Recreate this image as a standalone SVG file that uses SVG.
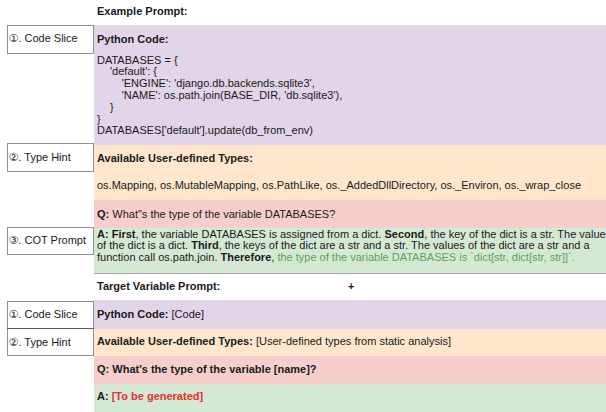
<svg xmlns="http://www.w3.org/2000/svg" width="606" height="412" viewBox="0 0 606 412">
<style>
text{font-family:"Liberation Sans",Arial,"DejaVu Sans",sans-serif;font-size:11px;fill:#1a1a1a}
.b{font-weight:bold}
.lbl{fill:none;stroke:#222;stroke-width:1;stroke-dasharray:1 1}
.pu{fill:#e1d5e7}.or{fill:#ffe6cc}.re{fill:#f8cecc}.gr{fill:#d5e8d4}
.g{fill:#5aa55a}
.r{fill:#e8302e;font-weight:bold}
</style>
<rect width="606" height="412" fill="#fff"/>
<g id="example-title"><text class="b" x="97" y="15">Example Prompt:</text></g>
<g id="code-slice-1">
<rect class="pu" x="94" y="25" width="512" height="120"/>
<text class="b" x="97" y="42.5">Python Code:</text>
<text x="97" y="63.5">DATABASES = {</text>
<text x="110" y="75.3">'default': {</text>
<text x="121.7" y="87.1">'ENGINE': 'django.db.backends.sqlite3',</text>
<text x="121.7" y="98.9">'NAME': os.path.join(BASE_DIR, 'db.sqlite3'),</text>
<text x="110" y="110.7">}</text>
<text x="97" y="122.5">}</text>
<text x="97" y="134.3">DATABASES['default'].update(db_from_env)</text>
</g>
<g id="type-hint-1">
<rect class="or" x="94" y="145" width="512" height="55"/>
<text class="b" x="97" y="161.7">Available User-defined Types:</text>
<text x="97" y="189.3">os.Mapping, os.MutableMapping, os.PathLike, os._AddedDllDirectory, os._Environ, os._wrap_close</text>
</g>
<g id="question-1">
<rect class="re" x="94" y="200" width="512" height="28"/>
<text x="97" y="217.7"><tspan class="b">Q:</tspan> What"s the type of the variable DATABASES?</text>
</g>
<g id="answer-1">
<rect class="gr" x="94" y="228" width="512" height="45"/>
<line x1="94" y1="273.5" x2="606" y2="273.5" stroke="#a6a6a6" stroke-width="1"/>
<text x="97" y="237.5"><tspan class="b">A: First</tspan>, the variable DATABASES is assigned from a dict. <tspan class="b">Second</tspan>, the key of the dict is a str. The value</text>
<text x="97" y="249"><tspan>of the dict is a dict. </tspan><tspan class="b">Third</tspan>, the keys of the dict are a str and a str. The values of the dict are a str and a</text>
<text x="97" y="260.5">function call os.path.join. <tspan class="b">Therefore</tspan>, <tspan class="g">the type of the variable DATABASES is `dict[str, dict[str, str]]`.</tspan></text>
</g>
<g id="target-title">
<text class="b" x="97" y="290">Target Variable Prompt:</text>
<text class="b" x="348" y="290">+</text>
</g>
<g id="code-slice-2">
<rect class="pu" x="94" y="300" width="512" height="29"/>
<text x="97" y="317.5"><tspan class="b">Python Code:</tspan> [Code]</text>
</g>
<g id="type-hint-2">
<rect class="or" x="94" y="329" width="512" height="27"/>
<text x="97" y="345"><tspan class="b">Available User-defined Types:</tspan> [User-defined types from static analysis]</text>
</g>
<g id="question-2">
<rect class="re" x="94" y="356" width="512" height="28"/>
<text class="b" x="97" y="372.7">Q: What's the type of the variable [name]?</text>
</g>
<g id="answer-2">
<rect class="gr" x="94" y="384" width="512" height="28"/>
<text x="97" y="400"><tspan class="b">A: </tspan><tspan class="r">[To be generated]</tspan></text>
</g>
<g id="labels">
<g id="label-code-slice-1"><rect class="lbl" x="7.5" y="25.5" width="86" height="28"/><text x="8.5" y="42">①. Code Slice</text></g>
<g id="label-type-hint-1"><rect class="lbl" x="7.5" y="143.5" width="86" height="28"/><text x="8.5" y="160.5">②. Type Hint</text></g>
<g id="label-cot-1"><rect class="lbl" x="7.5" y="227.5" width="86" height="27"/><text x="8.5" y="244">③. COT Prompt</text></g>
<g id="label-code-slice-2"><rect class="lbl" x="7.5" y="301.5" width="86" height="27"/><text x="8.5" y="318">①. Code Slice</text></g>
<g id="label-type-hint-2"><rect class="lbl" x="7.5" y="328.5" width="86" height="27"/><text x="8.5" y="345.5">②. Type Hint</text></g>
</g>
<g id="connectors"></g>
</svg>
